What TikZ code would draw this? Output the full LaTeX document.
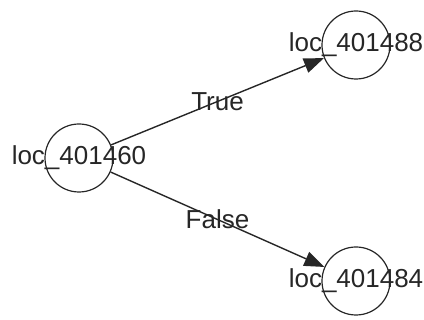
\documentclass[tikz,border=0pt]{standalone}
\usepackage{fontspec}
\setmainfont{Liberation Sans}
\usetikzlibrary{arrows.meta,positioning}

\begin{document}
\begin{tikzpicture}
		[
			x=1pt, y=-1pt,
			block/.style={circle, draw=black!85, line width=1.2pt, minimum size=68pt, inner sep=0pt},
			locname/.style={draw=none, fill=none, inner sep=0pt, text=black!85, font=\fontsize{26}{26}\selectfont},
			cond/.style={draw=none, fill=none, inner sep=0pt, text=black!85, font=\fontsize{26}{26}\selectfont},
			arrow/.style={-{Triangle[length=20pt,width=15pt]}, draw=black!85, line width=1.4pt}
		]
		\useasboundingbox (0,0) rectangle (424,320);

		% blocks
		\node[block] (L460) at (  79, 158 ) {};
		\node[block] (L488) at ( 356,  45 ) {};
		\node[block] (L484) at ( 356, 281 ) {};

		% block names
		\node[locname] (N460) at (L460) {loc\_401460};
		\node[locname] (N488) at (L488) {loc\_401488};
		\node[locname] (N484) at (L484) {loc\_401484};

		% branches
		\draw[arrow] (L460) -- node[cond] (T) {True} (L488);
		\draw[arrow] (L460) -- node[cond] (F) {False} (L484);

	\end{tikzpicture}
\end{document}
